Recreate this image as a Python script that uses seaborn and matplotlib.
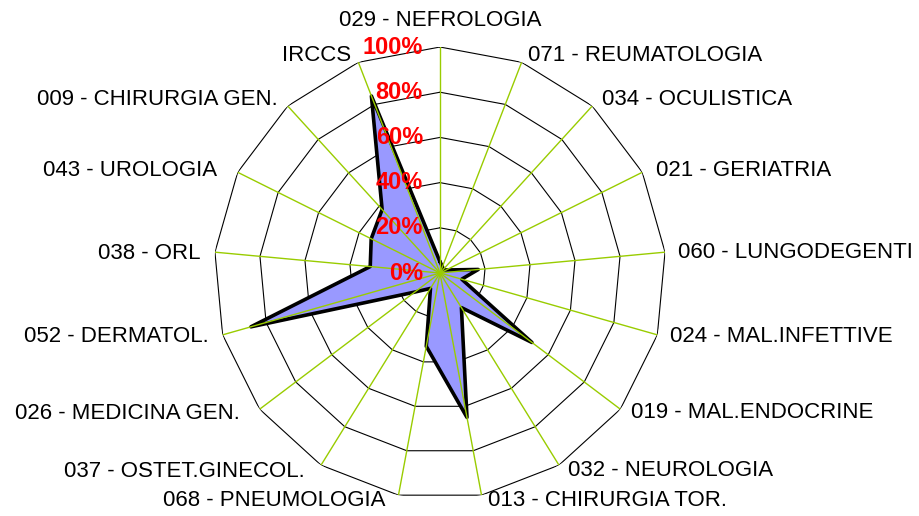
import numpy as np
import matplotlib
matplotlib.use("Agg")
import matplotlib.pyplot as plt
import seaborn as sns

# reparti (clockwise from top) and their share in %
reparti = ["029 - NEFROLOGIA", "071 - REUMATOLOGIA", "034 - OCULISTICA",
           "021 - GERIATRIA", "060 - LUNGODEGENTI", "024 - MAL.INFETTIVE",
           "019 - MAL.ENDOCRINE", "032 - NEUROLOGIA", "013 - CHIRURGIA TOR.",
           "068 - PNEUMOLOGIA", "037 - OSTET.GINECOL.", "026 - MEDICINA GEN.",
           "052 - DERMATOL.", "038 - ORL", "043 - UROLOGIA",
           "009 - CHIRURGIA GEN.", "IRCCS"]
valori = [5, 3, 2, 3, 17, 10, 51, 18, 65, 33, 8, 14, 87, 31, 34, 38, 84]
anelli = [0, 20, 40, 60, 80, 100]
etichette_anelli = ["0%", "20%", "40%", "60%", "80%", "100%"]

sns.set_theme(style="white")
plt.rcParams["font.family"] = ["Liberation Sans", "DejaVu Sans"]

n = len(reparti)
theta = np.linspace(0, 2 * np.pi, n, endpoint=False)
theta_c = np.append(theta, theta[0])

fig = plt.figure(figsize=(9.2, 5.16), dpi=100)
ax = fig.add_axes([0.2326, 0.0329, 0.4913, 0.876], projection="polar")
ax.set_theta_zero_location("N")
ax.set_theta_direction(-1)
ax.set_ylim(0, 100)
ax.axis("off")

# polygon rings
for r in anelli[1:]:
    ax.plot(theta_c, [r] * (n + 1), color="black", lw=0.8, zorder=1)

v = np.append(valori, valori[0])
ax.fill(theta_c, v, color="#9999FF", zorder=2)
ax.plot(theta_c, v, color="black", lw=2.6, zorder=3)

# spokes
for t in theta:
    ax.plot([t, t], [0, 100], color="#99CC00", lw=1.0, zorder=4)

# category labels, offsets in pixels from the spoke tip
offsets = [(0, 27), (6, 7), (10, 7), (14, 2), (13, 0), (13, -2), (11, -3),
           (9, -5), (6, -5), (-13, -5), (-16, -6), (-20, -4), (-14, -2),
           (-14, -1), (-21, 2), (-10, 7), (-7, 7)]
for t, lab, (dx, dy) in zip(theta, reparti, offsets):
    if dx == 0:
        ha = "center"
    elif dx > 0:
        ha = "left"
    else:
        ha = "right"
    ax.annotate(lab, xy=(t, 100), xytext=(dx, dy), textcoords="offset pixels",
                ha=ha, va="center", fontsize=16, color="black",
                annotation_clip=False)

# percentage labels along the top spoke
for r, lab in zip(anelli, etichette_anelli):
    ax.annotate(lab, xy=(0, r), xytext=(-17, 0), textcoords="offset pixels",
                ha="right", va="center", fontsize=17, fontweight="bold",
                color="#FF0000", annotation_clip=False, zorder=6)

fig.savefig("out.png", dpi=100)
